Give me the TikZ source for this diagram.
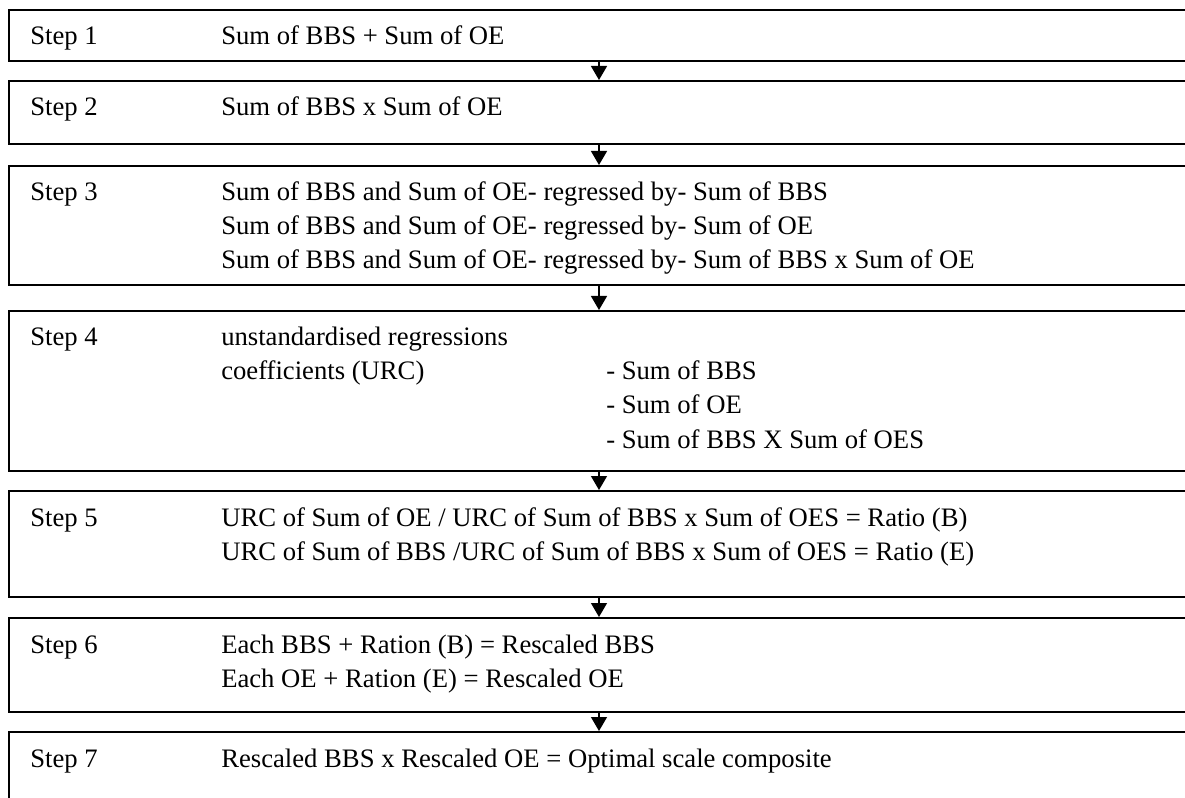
\documentclass[tikz,border=0pt]{standalone}
\usepackage{fontspec}
\setmainfont{Liberation Serif}
\usetikzlibrary{positioning, arrows.meta}
\tikzset{
  stepbox/.style = {draw, line width=1.5pt, minimum width=893pt, anchor=north west, inner sep=0pt},
  txt/.style     = {anchor=base west, inner sep=0pt, font=\fontsize{20pt}{24pt}\selectfont},
  arrow/.style   = {-{Triangle[length=10.5pt, width=12pt]}, line width=1pt}
}

\begin{document}
\begin{tikzpicture}
  \clip (0,0) rectangle (888.75pt,-598.5pt);
  % boxes
  \node[stepbox, minimum height=38.25pt] (b1) at (6pt,-6.75pt) {};
  \node[stepbox, minimum height=47.25pt, below=13.5pt of b1.south west, anchor=north west] (b2) {};
  \node[stepbox, minimum height=89.25pt, below=15pt of b2.south west, anchor=north west]   (b3) {};
  \node[stepbox, minimum height=120pt, below=18pt of b3.south west, anchor=north west]     (b4) {};
  \node[stepbox, minimum height=79.5pt, below=13.5pt of b4.south west, anchor=north west]  (b5) {};
  \node[stepbox, minimum height=70.5pt, below=14.25pt of b5.south west, anchor=north west] (b6) {};
  \node[stepbox, minimum height=80pt, below=13.5pt of b6.south west, anchor=north west]    (b7) {};
  \coordinate (ax) at ([xshift=443.25pt]b1.south west);

  % step 1
  \node[txt] (s1) at ([xshift=16.5pt, yshift=-27pt]b1.north west) {Step 1};
  \node[txt] (t1) at ([xshift=159.75pt, yshift=-27pt]b1.north west) {Sum of BBS + Sum of OE};
  % step 2
  \node[txt] (s2) at ([xshift=16.5pt, yshift=-27pt]b2.north west) {Step 2};
  \node[txt] (t2) at ([xshift=159.75pt, yshift=-27pt]b2.north west) {Sum of BBS x Sum of OE};
  % step 3
  \node[txt] (s3)  at ([xshift=16.5pt, yshift=-27pt]b3.north west) {Step 3};
  \node[txt] (t3a) at ([xshift=159.75pt, yshift=-27pt]b3.north west) {Sum of BBS and Sum of OE- regressed by- Sum of BBS};
  \node[txt] (t3b) at ([yshift=-25.5pt]t3a.base west) {Sum of BBS and Sum of OE- regressed by- Sum of OE};
  \node[txt] (t3c) at ([yshift=-25.5pt]t3b.base west) {Sum of BBS and Sum of OE- regressed by- Sum of BBS x Sum of OE};
  % step 4
  \node[txt] (s4)  at ([xshift=16.5pt, yshift=-27pt]b4.north west) {Step 4};
  \node[txt] (t4a) at ([xshift=159.75pt, yshift=-27pt]b4.north west) {unstandardised regressions};
  \node[txt] (t4b) at ([yshift=-25.5pt]t4a.base west) {coefficients (URC)};
  \node[txt] (c4a) at ([xshift=448.5pt]b4.west |- t4b.base) {- Sum of BBS};
  \node[txt] (c4b) at ([yshift=-25.5pt]c4a.base west) {- Sum of OE};
  \node[txt] (c4c) at ([yshift=-25.5pt]c4b.base west) {- Sum of BBS X Sum of OES};
  % step 5
  \node[txt] (s5)  at ([xshift=16.5pt, yshift=-27pt]b5.north west) {Step 5};
  \node[txt] (t5a) at ([xshift=159.75pt, yshift=-27pt]b5.north west) {URC of Sum of OE / URC of Sum of BBS x Sum of OES = Ratio (B)};
  \node[txt] (t5b) at ([yshift=-25.5pt]t5a.base west) {URC of Sum of BBS /URC of Sum of BBS x Sum of OES = Ratio (E)};
  % step 6
  \node[txt] (s6)  at ([xshift=16.5pt, yshift=-27pt]b6.north west) {Step 6};
  \node[txt] (t6a) at ([xshift=159.75pt, yshift=-27pt]b6.north west) {Each BBS + Ration (B) = Rescaled BBS};
  \node[txt] (t6b) at ([yshift=-25.5pt]t6a.base west) {Each OE + Ration (E) = Rescaled OE};
  % step 7
  \node[txt] (s7) at ([xshift=16.5pt, yshift=-27pt]b7.north west) {Step 7};
  \node[txt] (t7) at ([xshift=159.75pt, yshift=-27pt]b7.north west) {Rescaled BBS x Rescaled OE = Optimal scale composite};

  % arrows
  \draw[arrow] (b1.south -| ax) -- (b2.north -| ax);
  \draw[arrow] (b2.south -| ax) -- (b3.north -| ax);
  \draw[arrow] (b3.south -| ax) -- (b4.north -| ax);
  \draw[arrow] (b4.south -| ax) -- (b5.north -| ax);
  \draw[arrow] (b5.south -| ax) -- (b6.north -| ax);
  \draw[arrow] (b6.south -| ax) -- (b7.north -| ax);
\end{tikzpicture}
\end{document}
